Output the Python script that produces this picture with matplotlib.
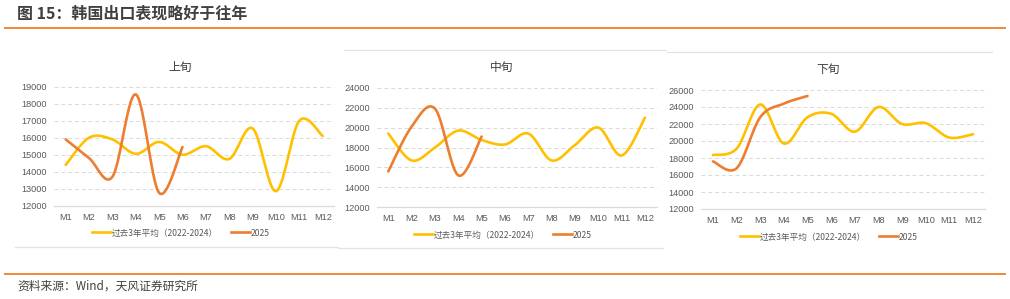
import numpy as np
import matplotlib
matplotlib.use("Agg")
import matplotlib.pyplot as plt
from matplotlib.lines import Line2D

plt.rcParams["font.family"] = ["Liberation Sans", "Noto Sans CJK SC", "DejaVu Sans"]
CJK = ["Noto Sans CJK SC", "DejaVu Sans"]

# ── data ────────────────────────────────────────────────────────────────────
MONTHS = [f"M{i}" for i in range(1, 13)]

# 上旬
early_avg = [14400, 16000, 15900, 15050, 15750, 15000, 15500, 14750, 16550, 12850, 17000, 16100]
early_2025 = [15900, 14800, 13700, 18550, 12750, 15450]
# 中旬
mid_avg = [19400, 16700, 18000, 19700, 18750, 18300, 19400, 16700, 18250, 20000, 17200, 21000]
mid_2025 = [15600, 20100, 21900, 15200, 19100]
# 下旬
late_avg = [18350, 19100, 24300, 19700, 22800, 23200, 21100, 24000, 22000, 22100, 20400, 20800]
late_2025 = [17600, 16800, 22800, 24400, 25300]

PANEL_TITLES = ["上旬", "中旬", "下旬"]
SERIES_NAMES = ["过去3年平均（2022-2024）", "2025"]

C_AVG = "#FFC000"
C_2025 = "#ED7D31"
C_TXT = "#595959"
C_GRID = "#D9D9D9"

W, H = 1010, 299


def smooth(y, n=20):
    """Excel-style smoothed line (Catmull-Rom as cubic bezier)."""
    x = np.arange(len(y), dtype=float)
    y = np.asarray(y, dtype=float)
    P = np.column_stack([x, y])
    P = np.vstack([P[0], P, P[-1]])
    out = []
    t = np.linspace(0, 1, n)[:, None]
    for i in range(1, len(P) - 2):
        p0, p1, p2, p3 = P[i - 1], P[i], P[i + 1], P[i + 2]
        c1 = p1 + (p2 - p0) / 6
        c2 = p2 - (p3 - p1) / 6
        seg = ((1 - t) ** 3) * p1 + 3 * ((1 - t) ** 2) * t * c1 + 3 * (1 - t) * t ** 2 * c2 + t ** 3 * p2
        out.append(seg if i == 1 else seg[1:])
    s = np.vstack(out)
    return s[:, 0], s[:, 1]


def px_axes(fig, left, right, top, bottom):
    return fig.add_axes([left / W, 1 - bottom / H, (right - left) / W, (bottom - top) / H])


fig = plt.figure(figsize=(W / 100, H / 100), dpi=100)

# header / footer
fig.text(17 / W, 1 - 14 / H, "图 15：韩国出口表现略好于往年", fontsize=11.5, fontweight="bold",
         color="#404040", ha="left", va="center", family=CJK)
fig.add_artist(Line2D([5 / W, 1005 / W], [1 - 28 / H] * 2, color="#F0883A", lw=1.4))
fig.add_artist(Line2D([5 / W, 1005 / W], [1 - 274 / H] * 2, color="#F0883A", lw=1.4))
fig.text(17 / W, 1 - 286 / H, "资料来源：Wind，天风证券研究所", fontsize=8.5,
         color="#404040", ha="left", va="center", family=CJK)

# faint panel borders
for (x0, x1, y) in [(15, 338, 247.3), (338, 663, 248.3), (344, 666, 50.3), (667, 992, 52.3)]:
    fig.add_artist(Line2D([x0 / W, x1 / W], [1 - y / H] * 2, color="#E3E3E3", lw=0.9))

panels = [
    # m1_x, m12_x, y_bottom, y_top, ylim, step, title_xy, legend_xy
    (65.7, 322.7, 205.7, 86.7, (12000, 19000), 1000, (180, 67), (181, 233), early_avg, early_2025),
    (388.3, 645.0, 207.3, 87.7, (12000, 24000), 2000, (502, 67), (503, 235), mid_avg, mid_2025),
    (713.0, 973.0, 209.0, 90.0, (12000, 26000), 2000, (828, 69), (829, 237), late_avg, late_2025),
]

for k, (m1, m12, yb, yt, ylim, step, t_xy, l_xy, avg, cur) in enumerate(panels):
    half = (m12 - m1) / 11 / 2
    ax = px_axes(fig, m1 - half, m12 + half, yt, yb)
    ax.set_xlim(-0.5, 11.5)
    ax.set_ylim(*ylim)
    ax.set_yticks(np.arange(ylim[0], ylim[1] + 1, step))
    ax.set_xticks(range(12))
    ax.set_xticklabels(MONTHS)
    ax.tick_params(length=0, labelsize=6.6, colors=C_TXT, pad=5)
    for sp in ["top", "right", "left"]:
        ax.spines[sp].set_visible(False)
    ax.spines["bottom"].set_color(C_GRID)
    ax.spines["bottom"].set_linewidth(0.9)
    for v in np.arange(ylim[0] + step, ylim[1] + 1, step):
        ax.axhline(v, color=C_GRID, lw=0.7, ls=(0, (4, 3)), zorder=0)

    xs, ys = smooth(avg)
    ax.plot(xs, ys, color=C_AVG, lw=1.9, solid_capstyle="round")
    xs, ys = smooth(cur)
    ax.plot(xs, ys, color=C_2025, lw=1.9, solid_capstyle="round")

    fig.text(t_xy[0] / W, 1 - t_xy[1] / H, PANEL_TITLES[k], fontsize=8.5, color="#404040",
             ha="center", va="center", family=CJK)

    handles = [Line2D([], [], color=C_AVG, lw=1.9), Line2D([], [], color=C_2025, lw=1.9)]
    fig.legend(handles, SERIES_NAMES, loc="center", bbox_to_anchor=(l_xy[0] / W, 1 - l_xy[1] / H),
               ncol=2, frameon=False, prop={"family": CJK, "size": 6.2}, labelcolor=C_TXT,
               handlelength=2.2, handletextpad=0.1, columnspacing=1.5, borderaxespad=0)

fig.savefig("out.png", dpi=100)
